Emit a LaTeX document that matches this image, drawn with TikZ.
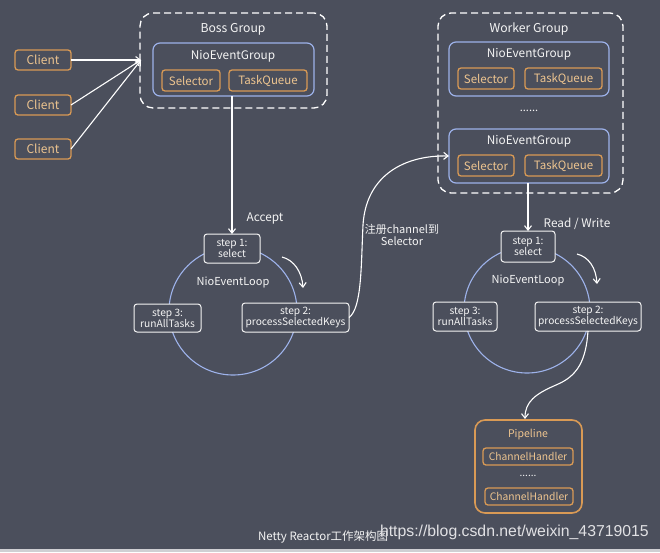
\documentclass[tikz,border=0pt]{standalone}
\usepackage{fontspec}
\setmainfont{Noto Sans CJK SC}
\newfontfamily\wmfont{Liberation Sans}
\usetikzlibrary{arrows.meta}
\definecolor{bg}{HTML}{4B4F5C}
\definecolor{orbd}{HTML}{D99A55}
\definecolor{ortx}{HTML}{EDC48F}
\definecolor{bluebd}{HTML}{9DB2EA}
\definecolor{wtx}{HTML}{F4F4F4}
\definecolor{strip}{HTML}{CFCFD3}
\definecolor{wmcol}{HTML}{E1E1E4}
\begin{document}
\begin{tikzpicture}[x=1pt,y=-1pt,
  every node/.style={inner sep=0pt,outer sep=0pt},
  arr/.style={draw=white,line width=1.1pt,-{Straight Barb[length=4.5pt,width=7pt,line width=1.1pt]}},
  orbox/.style={draw=orbd,line width=1.3pt,rounded corners=3pt,text=ortx,font=\fontsize{11.5}{13}\selectfont,fill=bg},
  negbox/.style={draw=bluebd,line width=1.2pt,rounded corners=7pt},
  grpbox/.style={draw=white,line width=1.3pt,dash pattern=on 7pt off 4pt,rounded corners=13pt},
  stepbox/.style={draw=wtx,line width=1pt,rounded corners=3pt,fill=bg,text=wtx,align=center,font=\fontsize{10.2}{11}\selectfont},
  loopcirc/.style={draw=bluebd,line width=1.1pt},
  glabel/.style={text=wtx,font=\fontsize{12.2}{14}\selectfont},
  wlabel/.style={text=wtx,font=\fontsize{11.8}{13}\selectfont},
  llabel/.style={text=wtx,font=\fontsize{11}{13}\selectfont},
  slabel/.style={text=wtx,font=\fontsize{11}{12.5}\selectfont,align=center}
]
\fill[bg] (0,0) rectangle (660,552);
\useasboundingbox (0,0) rectangle (660,552);
\fill[strip] (0,549) rectangle (660,552);

% Clients
\node[orbox,font=\fontsize{12}{13}\selectfont,minimum width=56pt,minimum height=20pt] (c1) at (43,60) {Client};
\node[orbox,font=\fontsize{12}{13}\selectfont,minimum width=56pt,minimum height=20pt] (c2) at (43,105) {Client};
\node[orbox,font=\fontsize{12}{13}\selectfont,minimum width=56pt,minimum height=20pt] (c3) at (43,149) {Client};

% Boss group
\node[grpbox,minimum width=187pt,minimum height=95pt] (boss) at (233.5,60.5) {};
\node[glabel] (bosslbl) at (233,29) {Boss Group};
\node[negbox,minimum width=161pt,minimum height=53pt] (bneg) at (233.5,69.5) {};
\node[wlabel] (bnegtxt) at (233,56) {NioEventGroup};
\node[orbox,minimum width=58pt,minimum height=21pt] (bsel) at (191,80.5) {Selector};
\node[orbox,minimum width=78pt,minimum height=21pt] (btq) at (268,80.5) {TaskQueue};

\coordinate (bossin) at (141,60);
\draw[arr] (c1.east) -- (bossin);
\draw[arr] (c2.east) -- (bossin);
\draw[arr] (c3.east) -- (bossin);

% Worker group
\node[grpbox,minimum width=185pt,minimum height=180pt] (worker) at (530.5,103) {};
\node[glabel] (workerlbl) at (529,29) {Worker Group};
\node[negbox,minimum width=160pt,minimum height=54pt] (wneg1) at (529,69) {};
\node[wlabel] (wneg1txt) at (529,54) {NioEventGroup};
\node[orbox,minimum width=56pt,minimum height=21pt] (wsel1) at (486,78.5) {Selector};
\node[orbox,minimum width=77pt,minimum height=21pt] (wtq1) at (563.5,78.5) {TaskQueue};
\node[llabel] (wdots) at (529,111) {......};
\node[negbox,minimum width=160pt,minimum height=54pt] (wneg2) at (529,156) {};
\node[wlabel] (wneg2txt) at (529,141) {NioEventGroup};
\node[orbox,minimum width=56pt,minimum height=21pt] (wsel2) at (486,165.5) {Selector};
\node[orbox,minimum width=77pt,minimum height=21pt] (wtq2) at (563.5,165.5) {TaskQueue};

% Boss loop
\draw[loopcirc] (233,311) circle (64);
\node[llabel] (bloop) at (233,282) {NioEventLoop};
\node[stepbox,minimum width=56pt,minimum height=29pt] (bs1) at (232,248.5) {step 1:\\select};
\node[stepbox,minimum width=107pt,minimum height=29pt] (bs2) at (295.5,317.5) {step 2:\\processSelectedKeys};
\node[stepbox,minimum width=67pt,minimum height=28pt] (bs3) at (167.5,318) {step 3:\\runAllTasks};
\draw[arr] (bs1.north |- bneg.south) -- (bs1.north);
\node[wlabel] (accept) at (265,219) {Accept};
\coordinate (ba1) at (282,257);
\coordinate (ba2) at (303,288);
\draw[arr] (ba1) .. controls (294,260) and (302,272) .. (ba2);

% Worker loop
\draw[loopcirc] (527,310) circle (63);
\node[llabel] (wloop) at (528,280) {NioEventLoop};
\node[stepbox,minimum width=54pt,minimum height=31pt] (ws1) at (528,246.5) {step 1:\\select};
\node[stepbox,minimum width=106pt,minimum height=29pt] (ws2) at (588,316.5) {step 2:\\processSelectedKeys};
\node[stepbox,minimum width=64pt,minimum height=29pt] (ws3) at (465,316.5) {step 3:\\runAllTasks};
\draw[arr] (ws1.north |- wneg2.south) -- (ws1.north);
\node[wlabel] (rw) at (577,224) {Read / Write};
\coordinate (wa1) at (577,254);
\coordinate (wa2) at (597,284);
\draw[arr] (wa1) .. controls (589,257) and (596,268) .. (wa2);

% Register arrow
\draw[arr] (bs2.east) .. controls (362,308) and (361,265) .. (363,225)
  .. controls (366,175) and (405,155) .. (wneg2.west);
\node[slabel] (reg) at (402,235) {注册channel到\\Selector};

% Pipeline
\node[draw=orbd,line width=1.6pt,rounded corners=10pt,minimum width=107pt,minimum height=93pt] (pipe) at (528.5,466.5) {};
\node[text=ortx,font=\fontsize{10.5}{12}\selectfont] (pipetxt) at (528,435) {Pipeline};
\node[orbox,font=\fontsize{10.3}{11}\selectfont,minimum width=90pt,minimum height=17pt] (ch1) at (528,456.5) {ChannelHandler};
\node[llabel,font=\fontsize{10}{11}\selectfont] (pdots) at (528,476) {......};
\node[orbox,font=\fontsize{10.3}{11}\selectfont,minimum width=88pt,minimum height=17pt] (ch2) at (529,496.5) {ChannelHandler};
\coordinate (pipein) at (525,419);
\draw[arr] (ws2.south) .. controls (586,360) and (578,376) .. (556,385)
  .. controls (535,394) and (525,402) .. (pipein);

% Caption and watermark
\node[text=wtx,font=\fontsize{11.5}{13}\selectfont,anchor=west] (cap) at (258,537) {Netty Reactor工作架构图};
\node[text=wmcol,font=\wmfont\fontsize{15.8}{18}\selectfont,anchor=west] (wm) at (380,532) {https://blog.csdn.net/weixin\_43719015};
\end{tikzpicture}
\end{document}
